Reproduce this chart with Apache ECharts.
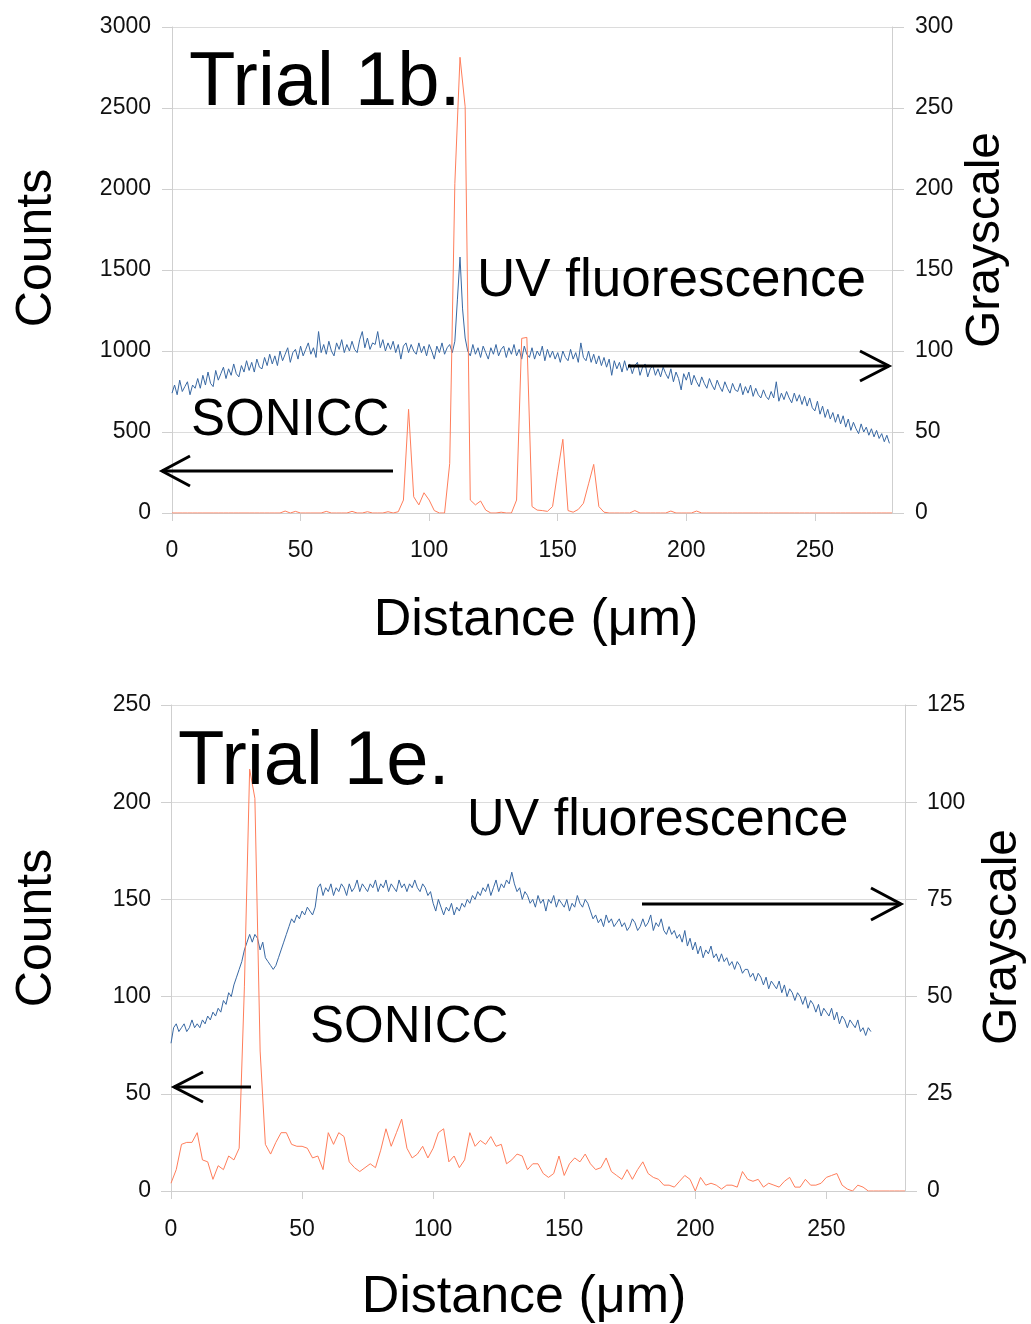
<!DOCTYPE html>
<html><head><meta charset="utf-8">
<script src="https://cdn.jsdelivr.net/npm/echarts@6/dist/echarts.min.js"></script>
<style>html,body{margin:0;padding:0;background:#fff}#c{width:1031px;height:1324px}</style>
</head><body><div id="c"></div>
<script>
// ---------- DATA ----------
// Sampling steps (µm)
const sonicStep = 2;
const uvStep = 1;

// Trial 1b: SONICC counts, x = 0,2,...,280
const sonicTop = [
  0,0,0,0,0,0,0,0,0,0,
  0,0,0,0,0,0,0,0,0,0,
  0,0,12,0,10,0,0,0,0,0,
  10,0,0,0,0,10,0,0,8,0,
  0,0,8,0,8,80,640,100,50,125,
  80,15,0,0,306,2035,2813,2508,80,50,
  74,18,0,0,5,0,0,80,1078,1084,
  40,18,15,10,40,255,455,15,5,22,
  60,180,300,40,5,0,0,0,0,0,
  15,0,0,0,0,0,0,12,0,0,
  0,0,12,0,0,0,0,0,0,0,
  0,0,0,0,0,0,0,0,0,0,
  0,0,0,0,0,0,0,0,0,0,
  0,0,0,0,0,0,0,0,0,0,
  0
];
// Trial 1b: UV fluorescence grayscale, x = 0,1,...,279
const uvTop = [
  74,79,73,82,75,78,81,73,79,77,
  83,77,85,79,87,80,78,88,82,86,
  90,83,89,85,92,86,84,91,87,94,
  88,93,87,95,90,89,96,91,98,92,
  97,91,100,94,98,102,93,99,101,95,
  103,97,101,105,98,102,96,112,99,104,
  98,106,100,97,105,101,107,99,104,100,
  106,101,99,107,112,102,108,101,105,104,
  112,102,107,100,105,101,106,99,104,95,
  103,105,99,104,100,98,105,99,103,97,
  104,100,95,103,99,105,98,102,104,99,
  106,132,158,126,108,100,97,104,98,102,
  96,103,99,95,102,98,104,97,101,103,
  96,102,98,104,97,101,95,103,98,96,
  102,95,100,97,103,94,101,96,100,95,
  99,93,100,96,94,101,95,99,93,105,
  96,94,100,93,98,92,97,91,96,90,
  95,85,94,89,93,87,94,88,92,86,
  91,93,85,90,92,84,89,91,85,89,
  84,90,86,83,89,81,87,83,76,86,
  82,87,79,85,81,78,84,80,77,83,
  79,76,82,78,75,81,77,74,80,76,
  75,80,73,78,74,79,72,77,73,71,
  76,72,70,75,71,81,69,74,70,75,
  71,68,74,69,73,67,72,66,71,65,
  63,69,61,66,59,64,58,62,56,61,
  55,60,53,58,51,56,52,49,55,50,
  53,48,52,47,51,46,49,44,48,43
];
// Trial 1e: SONICC counts, x = 0,2,...,280
const sonicBot = [
  4,11,24,25,25,30,16,15,6,13,
  11,18,16,22,105,217,202,72,24,19,
  25,30,30,24,23,23,22,17,18,11,
  30,24,30,28,15,12,10,12,14,12,
  21,32,23,30,37,22,17,19,23,17,
  22,30,32,15,18,12,16,30,23,26,
  24,28,23,24,14,16,19,18,11,14,
  14,9,7,9,18,8,14,17,15,19,
  14,11,12,17,10,8,6,11,6,11,
  15,9,7,6,3,3,2,5,8,6,
  0,7,3,4,3,1,3,3,2,10,
  6,5,6,2,4,3,2,5,7,2,
  2,6,3,3,4,7,8,9,3,1,
  0,3,2,0,0,0,0,0,0,0,
  0
];
// Trial 1e: UV fluorescence grayscale, x = 0,1,...,267
const uvBot = [
  38,42,43,41,42,43,41,42,44,42,
  43,42,44,43,45,44,46,45,47,46,
  49,48,51,50,53,55,57,59,62,64,
  66,64,66,65,62,64,60,59,58,57,
  58,60,62,64,66,68,70,69,71,70,
  72,71,73,72,71,73,78,79,76,78,
  77,79,76,78,77,79,78,76,79,77,
  78,80,77,79,78,77,79,78,80,77,
  79,78,80,77,79,78,77,80,78,79,
  77,79,78,80,78,77,79,78,76,77,
  74,72,75,73,71,73,72,74,71,73,
  72,74,73,75,74,76,75,77,76,78,
  77,79,76,78,80,77,79,78,80,79,
  82,79,77,78,75,77,76,74,75,73,
  76,74,75,72,75,74,76,73,75,74,
  73,75,72,74,73,76,74,73,75,74,
  72,70,71,69,70,68,71,69,70,68,
  69,70,68,69,67,68,70,69,67,68,
  70,68,69,71,67,69,68,70,67,66,
  68,66,67,65,66,64,67,63,65,62,
  64,61,63,60,62,61,63,60,61,59,
  61,59,60,58,59,57,59,58,56,57,
  57,55,56,54,56,55,53,55,52,54,
  53,52,54,51,53,50,52,51,49,51,
  50,48,50,47,49,48,46,48,45,47,
  46,45,47,44,46,43,45,44,42,44,
  43,42,44,41,42,40,42,41
];
// Axis ranges / tick steps
const xRange = [0, 280], xTickStep = 50;
const countsTop = [0, 3000], countsTopStep = 500;
const grayTop = [0, 300], grayTopStep = 50;
const countsBot = [0, 250], countsBotStep = 50;
const grayBot = [0, 125], grayBotStep = 25;

// ---------- BUILD ----------
const pairs = (arr, step) => arr.map((v, i) => [i * step, v]);

const FONT = '"Liberation Sans", Arial, Helvetica, sans-serif';
const GRID_C = '#dcdcdc', AXIS_C = '#cfcfcf', LBL_C = '#111';
const BLUE = '#3868a3', ORANGE = '#ff7d5a';
const TICK_FS = 23;
const plain = v => String(v);

function xAxisCfg(gi, margin) {
  return {
    gridIndex: gi, type: 'value', min: xRange[0], max: xRange[1], interval: xTickStep,
    axisLine: { show: true, onZero: false, lineStyle: { color: AXIS_C } },
    axisTick: { show: true, length: 8, lineStyle: { color: AXIS_C } },
    axisLabel: { margin: margin, fontSize: TICK_FS, color: LBL_C, fontFamily: FONT, showMaxLabel: false, formatter: plain },
    splitLine: { show: false }
  };
}
function yAxisCfg(gi, pos, range, step, margin, split, tickLen) {
  return {
    gridIndex: gi, type: 'value', position: pos, min: range[0], max: range[1], interval: step,
    axisLine: { show: true, lineStyle: { color: AXIS_C } },
    axisTick: { show: true, length: tickLen, lineStyle: { color: AXIS_C } },
    axisLabel: { margin: margin, fontSize: TICK_FS, color: LBL_C, fontFamily: FONT, formatter: plain },
    splitLine: { show: split, lineStyle: { color: GRID_C } }
  };
}
function txt(text, x, y, size, opts) {
  opts = opts || {};
  return {
    type: 'text', x: x, y: y, rotation: opts.rot || 0, z: 100,
    style: { text: text, font: size + 'px ' + FONT, fill: '#000',
      textAlign: opts.align || 'left', textVerticalAlign: 'middle' }
  };
}
function arrow(x1, y, x2, head) {
  const dir = x2 > x1 ? -1 : 1;
  return [
    { type: 'line', z: 100, shape: { x1: x1, y1: y, x2: x2, y2: y }, style: { stroke: '#000', lineWidth: 3 } },
    { type: 'polyline', z: 100, shape: { points: [[x2 + dir * head[0], y - head[1]], [x2, y], [x2 + dir * head[0], y + head[1]]] },
      style: { stroke: '#000', lineWidth: 3, fill: null } }
  ];
}

const option = {
  backgroundColor: '#fff',
  animation: false,
  grid: [
    { left: 172, top: 27, width: 720, height: 486 },
    { left: 171, top: 705, width: 734, height: 486 }
  ],
  xAxis: [xAxisCfg(0, 26), xAxisCfg(1, 27)],
  yAxis: [
    yAxisCfg(0, 'left', countsTop, countsTopStep, 21, true, 10),
    yAxisCfg(0, 'right', grayTop, grayTopStep, 23, false, 12),
    yAxisCfg(1, 'left', countsBot, countsBotStep, 20, true, 10),
    yAxisCfg(1, 'right', grayBot, grayBotStep, 22, false, 12)
  ],
  series: [
    { name: 'UV fluorescence 1b', type: 'line', xAxisIndex: 0, yAxisIndex: 1, data: pairs(uvTop, uvStep),
      showSymbol: false, lineStyle: { color: BLUE, width: 1 }, z: 2 },
    { name: 'SONICC 1b', type: 'line', xAxisIndex: 0, yAxisIndex: 0, data: pairs(sonicTop, sonicStep),
      showSymbol: false, lineStyle: { color: ORANGE, width: 1 }, z: 3 },
    { name: 'UV fluorescence 1e', type: 'line', xAxisIndex: 1, yAxisIndex: 3, data: pairs(uvBot, uvStep),
      showSymbol: false, lineStyle: { color: BLUE, width: 1 }, z: 2 },
    { name: 'SONICC 1e', type: 'line', xAxisIndex: 1, yAxisIndex: 2, data: pairs(sonicBot, sonicStep),
      showSymbol: false, lineStyle: { color: ORANGE, width: 1 }, z: 3 }
  ],
  graphic: [].concat(
    [
      txt('Trial 1b.', 189, 84, 76),
      txt('UV fluorescence', 477, 281, 53),
      txt('SONICC', 191, 421, 51),
      txt('Trial 1e.', 178, 763, 76),
      txt('UV fluorescence', 467, 821, 52),
      txt('SONICC', 310, 1028, 51),
      txt('Counts', 37, 248, 50, { rot: Math.PI / 2, align: 'center' }),
      txt('Grayscale', 986, 240, 48, { rot: Math.PI / 2, align: 'center' }),
      txt('Counts', 37, 928, 50, { rot: Math.PI / 2, align: 'center' }),
      txt('Grayscale', 1003, 937, 48, { rot: Math.PI / 2, align: 'center' }),
      txt('Distance (μm)', 536, 621, 52, { align: 'center' }),
      txt('Distance (μm)', 524, 1298, 52, { align: 'center' })
    ],
    arrow(393, 471, 162, [28, 15]),
    arrow(628, 366, 889, [29, 15]),
    arrow(251, 1087, 174, [29, 15]),
    arrow(642, 904, 901, [30, 16])
  )
};
const chart = echarts.init(document.getElementById('c'), null, { renderer: 'canvas' });
chart.setOption(option);
</script>
</body></html>
